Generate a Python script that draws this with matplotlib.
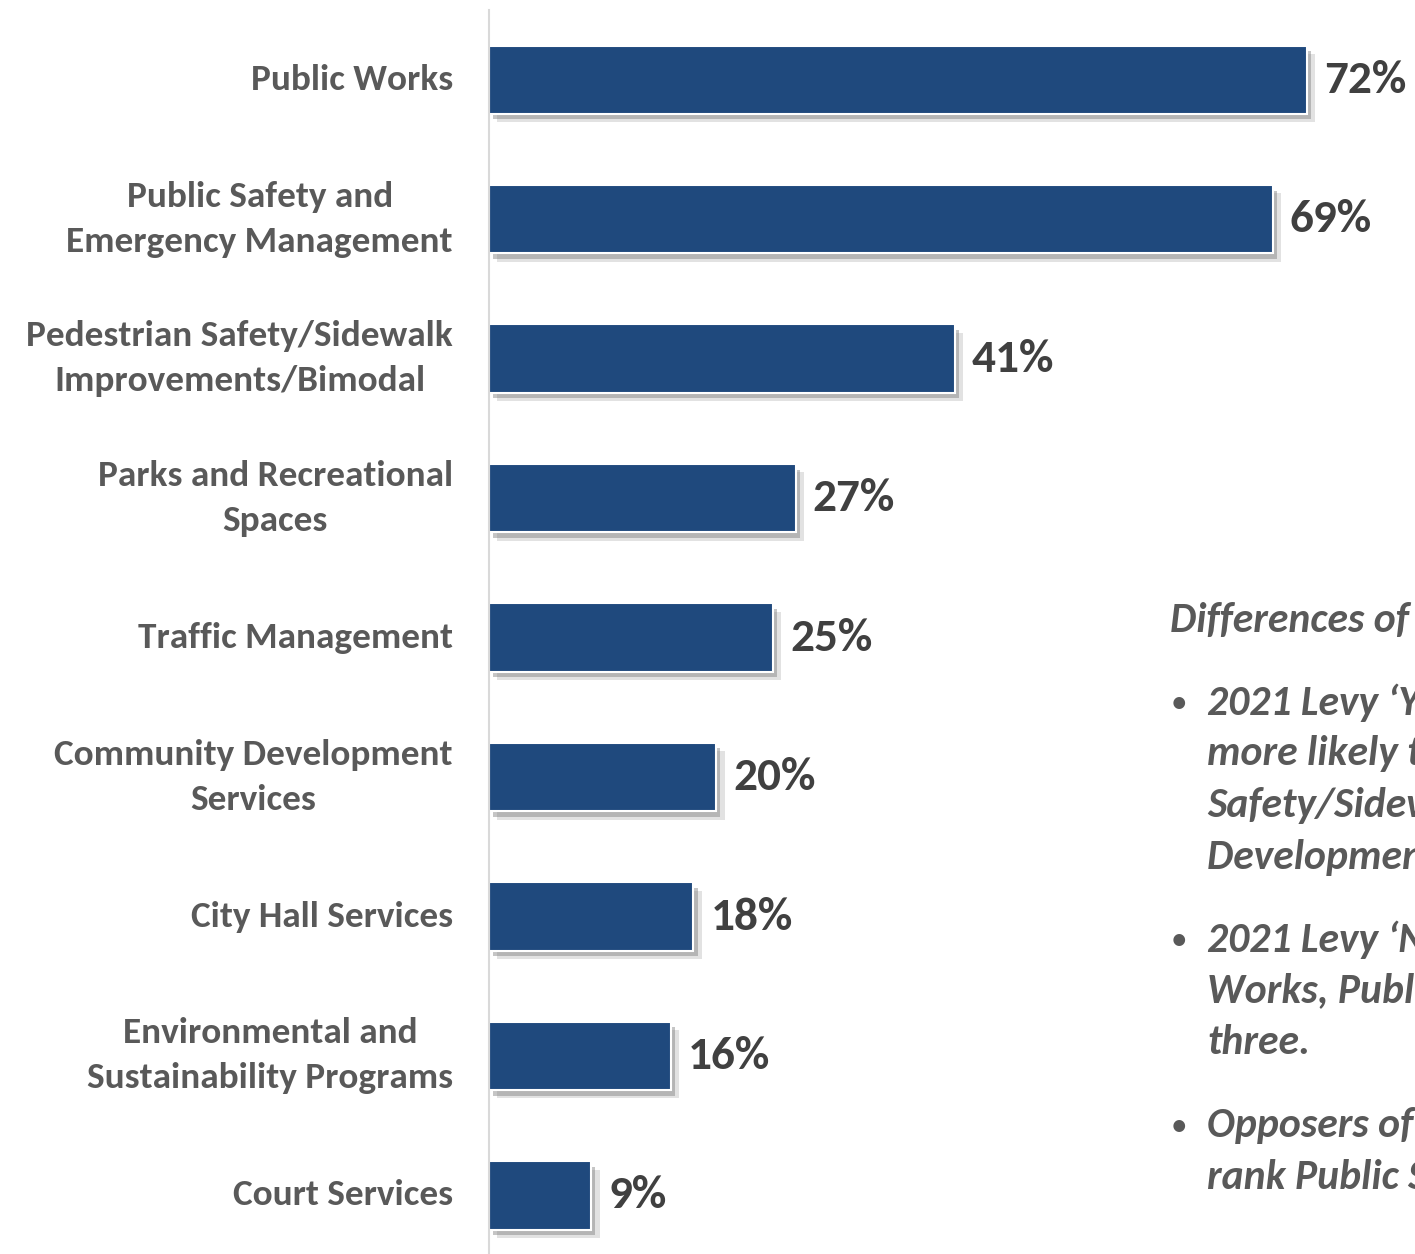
import numpy as np
import matplotlib.pyplot as plt
import matplotlib.patheffects as pe

categories = ['Public Works',
              'Public Safety and\nEmergency Management',
              'Pedestrian Safety/Sidewalk\nImprovements/Bimodal',
              'Parks and Recreational\nSpaces',
              'Traffic Management',
              'Community Development\nServices',
              'City Hall Services',
              'Environmental and\nSustainability Programs',
              'Court Services']
values = [72, 69, 41, 27, 25, 20, 18, 16, 9]

note_title = 'Differences of Opinion'
note_bullets = [
    ["2021 Levy \u2018Yes\u2019 voters are", "more likely to rank Pedestrian",
     "Safety/Sidewalks and Community", "Development Services in top three."],
    ["2021 Levy \u2018No\u2019 voters rank Public", "Works, Public Safety in the top",
     "three."],
    ["Opposers of the levy are likely to", "rank Public Safety first."],
]

bar_color = '#1F497D'
lab_color = '#595959'
val_color = '#404040'
font = 'Carlito'

W, H = 1415, 1254
fig = plt.figure(figsize=(W / 100, H / 100), dpi=100)
ax = fig.add_axes([489 / W, 0, 1 - 489 / W, (1254 - 10) / H])

y = np.arange(len(values))
bars = ax.barh(y, values, height=0.49, color=bar_color, edgecolor='white',
               linewidth=1.5)
for b in bars:
    b.set_path_effects([pe.SimplePatchShadow(offset=(6, -6), shadow_rgbFace='#a0a0a0', alpha=0.3),
                        pe.SimplePatchShadow(offset=(3, -4), shadow_rgbFace='#7f7f7f', alpha=0.45),
                        pe.Normal()])

ax.set_xlim(0, (W - 489) / 11.36)
ax.set_ylim(8.42, -0.5)

for yi, v in zip(y, values):
    ax.text(v + 1.5, yi, f'{v}%', va='center', ha='left', fontsize=34,
            fontweight='bold', color=val_color, family=font)

ax.set_yticks(y)
ax.set_yticklabels(categories, fontsize=26.8, fontweight='bold', color=lab_color,
                   family=font, linespacing=1.5, va='center')
for t in ax.get_yticklabels():
    t.set_multialignment('center')
ax.tick_params(axis='y', length=0, pad=26)
ax.set_xticks([])
for s in ['top', 'right', 'bottom']:
    ax.spines[s].set_visible(False)
ax.spines['left'].set_color('#D9D9D9')
ax.spines['left'].set_linewidth(1.5)

# note block on the right (runs off the slide edge, as in the slide)
fig.text(1170 / W, 1 - 620 / H, note_title, fontsize=30, fontweight='bold',
         style='italic', color=lab_color, family=font, va='center')
ypos = [[703, 754, 805, 857], [940, 991, 1042], [1126, 1177]]
for lines, ys in zip(note_bullets, ypos):
    fig.text(1171 / W, 1 - ys[0] / H, '\u2022', fontsize=24, color=lab_color,
             family=font, va='center')
    for ln, yy in zip(lines, ys):
        fig.text(1207 / W, 1 - yy / H, ln, fontsize=30, fontweight='bold',
                 style='italic', color=lab_color, family=font, va='center')

fig.savefig('out.png', dpi=100)
